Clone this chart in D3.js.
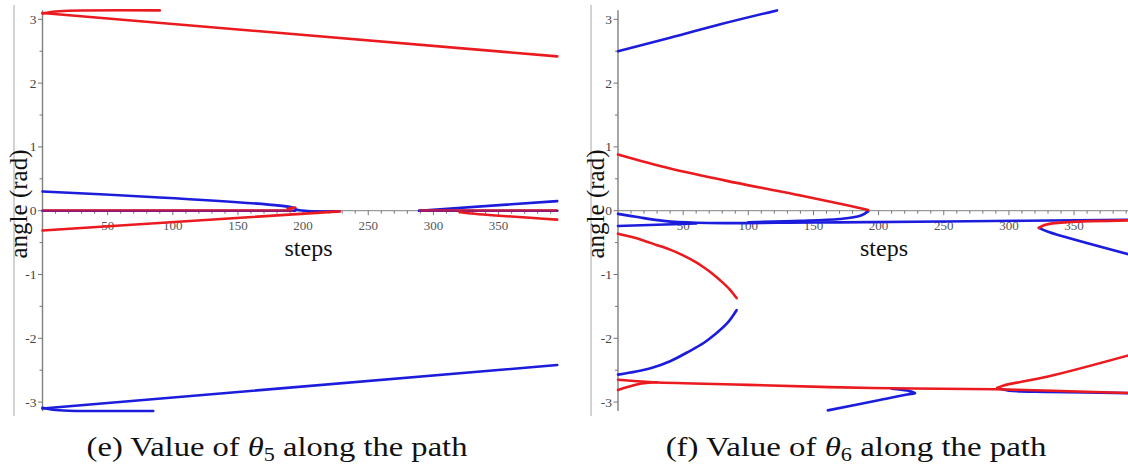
<!DOCTYPE html>
<html><head><meta charset="utf-8">
<script src="https://cdn.jsdelivr.net/npm/d3@7"></script>
<style>body{margin:0;background:#fff}svg{display:block}</style>
</head><body><svg id="c" width="1128" height="469"></svg>
<script>
// ---------- tick labels / axis ----------
const xMajor = [50,100,150,200,250,300,350];
const xMinor = d3.range(10, 400, 10);
const yMajor = [-3,-2,-1,0,1,2,3];
const yMinor = [-2.5,-1.5,-0.5,0.5,1.5,2.5];
const xLabel = "steps";
const yLabel = "angle (rad)";

// ---------- panel (e): theta5, [step, value] ----------
const e_red_top      = [[0,3.09],[8,3.12],[20,3.135],[90,3.14]];
const e_red_desc     = [[0,3.10],[395,2.42]];
const e_blue_bottom  = [[0,-3.09],[8,-3.12],[20,-3.135],[85,-3.14]];
const e_blue_rise    = [[0,-3.10],[395,-2.42]];
const e_blue_upper   = [[0,0.30],[192,0.05],[196,0.01],[228,-0.01]];
const e_blue_zero_a  = [[0,0],[194,0]];
const e_red_zero_a   = [[0,0.005],[192,0.005]];
const e_red_tip      = [[188,0.03],[194,0.05]];
const e_red_low      = [[0,-0.31],[228,-0.01]];
const e_blue_zero_b  = [[289,0],[395,0]];
const e_red_zero_b   = [[289,0.005],[395,0.005]];
const e_blue_rise_b  = [[289,0],[395,0.15]];
const e_red_desc_b   = [[320,-0.02],[327,-0.04],[395,-0.14]];

// ---------- panel (f): theta6 ----------
const f_blue_top     = [[0,2.50],[40,2.71],[80,2.93],[122,3.14]];
const f_red_desc     = [[0,0.88],[40,0.66],[90,0.44],[140,0.24],[175,0.09],[192,0.01]];
const f_blue_tip     = [[192,-0.01],[186,-0.08],[170,-0.13],[140,-0.16],[100,-0.18]];
const f_blue_long    = [[0,-0.05],[15,-0.10],[35,-0.16],[60,-0.19],[150,-0.185],[250,-0.17],[395,-0.14]];
const f_blue_low0    = [[0,-0.24],[30,-0.22],[60,-0.20]];
const f_blue_right   = [[323,-0.27],[330,-0.33],[395,-0.70]];
const f_red_right    = [[323,-0.27],[328,-0.22],[345,-0.18],[395,-0.15]];
const f_red_arc      = [[0,-0.36],[10,-0.41],[20,-0.47],[30,-0.54],[40,-0.61],[50,-0.70],[60,-0.81],[66,-0.89],[72,-0.98],[80,-1.12],[86,-1.24],[91,-1.37]];
const f_blue_arc     = [[91,-1.56],[84,-1.76],[75,-1.93],[66,-2.07],[55,-2.20],[40,-2.36],[25,-2.47],[14,-2.52],[0,-2.57]];
const f_red_bot_a    = [[0,-2.65],[27,-2.69],[100,-2.73],[195,-2.78],[290,-2.80],[395,-2.86]];
const f_red_bot_b    = [[0,-2.81],[8,-2.76],[18,-2.71],[30,-2.69]];
const f_red_up       = [[291,-2.78],[296,-2.74],[330,-2.60],[395,-2.25]];
const f_blue_bot_r   = [[291,-2.78],[300,-2.82],[330,-2.84],[395,-2.86]];
const f_blue_bot     = [[161,-3.13],[200,-2.97],[222,-2.88],[228,-2.86],[222,-2.82],[210,-2.79]];

const captionE = ["(e) Value of ", "θ", "5", " along the path"];
const captionF = ["(f) Value of ", "θ", "6", " along the path"];

const RED = "#ea1a1f", BLUE = "#1c1cdc";

const panels = [
  {x0: 42.5, frameX: 14, labelX: 27, caption: captionE, capCx: 277,
   blue: [e_blue_zero_a, e_blue_zero_b, e_blue_upper, e_blue_bottom, e_blue_rise, e_blue_rise_b],
   red: [e_red_top, e_red_desc, e_red_low, e_red_desc_b, e_red_tip],
   redBlend: [e_red_zero_a, e_red_zero_b]},
  {x0: 618, frameX: 591, labelX: 604, caption: captionF, capCx: 856,
   blue: [f_blue_top, f_blue_tip, f_blue_long, f_blue_low0, f_blue_right, f_blue_arc, f_blue_bot_r, f_blue_bot],
   red: [f_red_desc, f_red_right, f_red_arc, f_red_bot_b, f_red_up, f_red_bot_a],
   redBlend: []}
];

const svg = d3.select("#c");
const serif = "'Liberation Serif','Times New Roman',serif";

panels.forEach(p => {
  const x = d3.scaleLinear().domain([0, 396]).range([p.x0, p.x0 + 516]);
  const y = d3.scaleLinear().domain([-Math.PI, Math.PI]).range([411.1, 10.3]);
  const g = svg.append("g");

  g.append("line").attr("x1", p.frameX).attr("x2", p.frameX).attr("y1", 5).attr("y2", 416)
    .attr("stroke", "#c4c4c4").attr("stroke-width", 1.5);

  g.append("line").attr("x1", x(0)).attr("x2", x(396)).attr("y1", y(0)).attr("y2", y(0))
    .attr("stroke", "#9a9a9a").attr("stroke-width", 1.2);
  g.selectAll(".xm").data(xMinor).join("line")
    .attr("x1", d => x(d)).attr("x2", d => x(d))
    .attr("y1", y(0)).attr("y2", d => y(0) + (xMajor.includes(d) ? 4.5 : 3))
    .attr("stroke", "#777").attr("stroke-width", 1);
  g.selectAll(".xl").data(xMajor).join("text")
    .attr("x", d => x(d)).attr("y", y(0) + 19)
    .attr("text-anchor", "middle").attr("font-family", serif).attr("font-size", 13)
    .attr("fill", "#555").text(d => d);

  g.append("line").attr("x1", x(0)).attr("x2", x(0)).attr("y1", y(-Math.PI)).attr("y2", y(Math.PI))
    .attr("stroke", "#808080").attr("stroke-width", 1.4);
  g.selectAll(".ym").data(yMajor.concat(yMinor)).join("line")
    .attr("x1", x(0)).attr("x2", d => x(0) - (Number.isInteger(d) ? 4.5 : 3))
    .attr("y1", d => y(d)).attr("y2", d => y(d))
    .attr("stroke", "#777").attr("stroke-width", 1);
  g.selectAll(".yl").data(yMajor).join("text")
    .attr("x", x(0) - 6).attr("y", d => y(d) + 4.5)
    .attr("text-anchor", "end").attr("font-family", serif).attr("font-size", 13.5)
    .attr("fill", "#444").text(d => d < 0 ? "-" + Math.abs(d) : d);

  g.append("text").attr("x", x(0) + 266).attr("y", 256)
    .attr("text-anchor", "middle").attr("font-family", serif).attr("font-size", 24)
    .attr("fill", "#111").text(xLabel);
  g.append("text").attr("transform", `translate(${p.labelX},204) rotate(-90)`)
    .attr("text-anchor", "middle").attr("font-family", serif).attr("font-size", 25)
    .attr("fill", "#111").text(yLabel);

  const line = d3.line().x(d => x(d[0])).y(d => y(d[1])).curve(d3.curveCatmullRom.alpha(0.5));
  g.selectAll(".b").data(p.blue).join("path").attr("d", line)
    .attr("fill", "none").attr("stroke", BLUE).attr("stroke-width", 2.6).attr("stroke-linecap", "round");
  g.selectAll(".rb").data(p.redBlend).join("path").attr("d", line)
    .attr("fill", "none").attr("stroke", RED).attr("stroke-width", 2.6).attr("stroke-opacity", 0.72);
  g.selectAll(".r").data(p.red).join("path").attr("d", line)
    .attr("fill", "none").attr("stroke", RED).attr("stroke-width", 2.6).attr("stroke-linecap", "round");

  const t = g.append("text").attr("x", p.capCx).attr("y", 456)
    .attr("text-anchor", "middle").attr("font-family", serif).attr("font-size", 28).attr("fill", "#111");
  t.append("tspan").text(p.caption[0]);
  t.append("tspan").attr("font-style", "italic").text(p.caption[1]);
  t.append("tspan").attr("font-size", 19).attr("dy", 5).text(p.caption[2]);
  t.append("tspan").attr("dy", -5).text(p.caption[3]);
  const w = t.node().getBBox().width;
  const sx = 381 / w;
  t.attr("transform", `translate(${p.capCx},0) scale(${sx},1) translate(${-p.capCx},0)`);
});
</script></body></html>
